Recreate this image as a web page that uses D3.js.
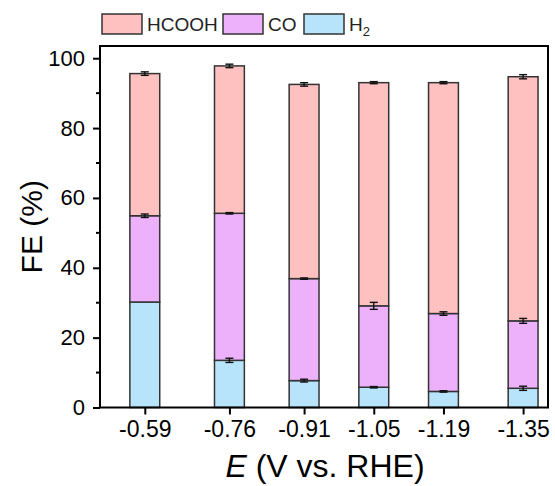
<!DOCTYPE html>
<html>
<head>
<meta charset="utf-8">
<script src="https://cdn.jsdelivr.net/npm/d3@7"></script>
<style>
  html, body { margin: 0; padding: 0; background: #fff; }
  svg { display: block; font-family: Arial, "Liberation Sans", sans-serif; }
</style>
</head>
<body>
<svg id="chart" width="555" height="486"></svg>
<script>
// Applied potentials (V vs. RHE)
const potentials = [-0.59, -0.76, -0.91, -1.05, -1.19, -1.35];
const tickLabels = ["-0.59", "-0.76", "-0.91", "-1.05", "-1.19", "-1.35"];
// Faradaic efficiency of each product (%), stacked H2 -> CO -> HCOOH
const h2 = [30.2, 13.5, 7.7, 5.8, 4.6, 5.5];
const co = [24.7, 42.1, 29.2, 23.3, 22.3, 19.3];
const hcooh = [40.7, 42.2, 55.6, 63.9, 66.1, 69.9];
// Standard deviations drawn at the top of each segment
const h2Err = [0, 0.6, 0.4, 0.2, 0.2, 0.6];
const coErr = [0.5, 0.2, 0.2, 1.0, 0.5, 0.7];
const hcoohErr = [0.5, 0.5, 0.5, 0.3, 0.3, 0.6];
const yTicks = [0, 20, 40, 60, 80, 100];
const yMinorTicks = [10, 30, 50, 70, 90];

const seriesKeys = ["H2", "CO", "HCOOH"];
const colors = { HCOOH: "#ffc0c0", CO: "#edb0fb", H2: "#b8e4fb" };
const errs = { H2: h2Err, CO: coErr, HCOOH: hcoohErr };

const rows = potentials.map((e, i) => ({ e, H2: h2[i], CO: co[i], HCOOH: hcooh[i], i }));

const svg = d3.select("#chart");
const m = { left: 100, right: 548, top: 46, bottom: 407.5 };

const x = d3.scaleLinear().domain([-0.5, -1.4]).range([m.left, m.right]);
const y = d3.scaleLinear().domain([0, 103.5]).range([m.bottom, m.top]);
const barHalf = 0.03;

const stacked = d3.stack().keys(seriesKeys)(rows);

// Bars
const gBars = svg.append("g");
stacked.forEach(layer => {
  gBars.selectAll(null)
    .data(layer)
    .join("rect")
    .attr("x", d => x(d.data.e + barHalf))
    .attr("width", d => x(d.data.e - barHalf) - x(d.data.e + barHalf))
    .attr("y", d => y(d[1]))
    .attr("height", d => y(d[0]) - y(d[1]))
    .attr("fill", colors[layer.key])
    .attr("stroke", "#333")
    .attr("stroke-width", 1.5);
});

// Error bars
const gErr = svg.append("g").attr("stroke", "#111").attr("stroke-width", 1.4);
stacked.forEach(layer => {
  layer.forEach(d => {
    const s = errs[layer.key][d.data.i];
    if (!s) return;
    const cx = x(d.data.e);
    const y1 = y(d[1] + s), y2 = y(d[1] - s);
    gErr.append("line").attr("x1", cx).attr("x2", cx).attr("y1", y1).attr("y2", y2);
    gErr.append("line").attr("x1", cx - 4).attr("x2", cx + 4).attr("y1", y1).attr("y2", y1);
    gErr.append("line").attr("x1", cx - 4).attr("x2", cx + 4).attr("y1", y2).attr("y2", y2);
  });
});

// Frame
svg.append("rect")
  .attr("x", m.left).attr("y", m.top)
  .attr("width", m.right - m.left).attr("height", m.bottom - m.top)
  .attr("fill", "none").attr("stroke", "#000").attr("stroke-width", 2);

// Y axis
const yAxis = svg.append("g").attr("transform", `translate(${m.left},0)`)
  .call(d3.axisLeft(y).tickValues(yTicks).tickSize(7).tickSizeOuter(0).tickPadding(8));
yAxis.select(".domain").remove();
yAxis.selectAll(".tick line").attr("stroke", "#000").attr("stroke-width", 2);
yAxis.selectAll(".tick text").attr("font-size", 22).attr("fill", "#000")
  .attr("font-family", "Arial, 'Liberation Sans', sans-serif");
svg.append("g").attr("transform", `translate(${m.left},0)`)
  .selectAll("line").data(yMinorTicks).join("line")
  .attr("x1", -4).attr("x2", 0)
  .attr("y1", d => y(d)).attr("y2", d => y(d))
  .attr("stroke", "#000").attr("stroke-width", 2);

// X axis
const xAxis = svg.append("g").attr("transform", `translate(0,${m.bottom})`)
  .call(d3.axisBottom(x).tickValues(potentials).tickFormat((d, i) => tickLabels[i])
    .tickSize(7).tickSizeOuter(0).tickPadding(6));
xAxis.select(".domain").remove();
xAxis.selectAll(".tick line").attr("stroke", "#000").attr("stroke-width", 2);
xAxis.selectAll(".tick text").attr("font-size", 23).attr("fill", "#000")
  .attr("font-family", "Arial, 'Liberation Sans', sans-serif");

// Axis titles
const xt = svg.append("text")
  .attr("x", (m.left + m.right) / 2 + 1).attr("y", 477)
  .attr("text-anchor", "middle").attr("font-size", 32).attr("fill", "#000");
xt.append("tspan").attr("font-style", "italic").text("E");
xt.append("tspan").text(" (V vs. RHE)");

svg.append("text")
  .attr("transform", `translate(42,${(m.top + m.bottom) / 2}) rotate(-90)`)
  .attr("text-anchor", "middle").attr("font-size", 30).attr("fill", "#000")
  .text("FE (%)");

// Legend
const legendItems = [
  { key: "HCOOH", x: 102 },
  { key: "CO", x: 223 },
  { key: "H2", x: 304 }
];
const gLeg = svg.append("g");
legendItems.forEach(it => {
  gLeg.append("rect").attr("x", it.x).attr("y", 14).attr("width", 40).attr("height", 20)
    .attr("fill", colors[it.key]).attr("stroke", "#333").attr("stroke-width", 1.5);
  const t = gLeg.append("text").attr("x", it.x + 45).attr("y", 31)
    .attr("font-size", 19).attr("fill", "#222");
  if (it.key === "H2") {
    t.append("tspan").text("H");
    t.append("tspan").attr("font-size", 13).attr("dy", 5).text("2");
  } else {
    t.text(it.key);
  }
});
</script>
</body>
</html>
